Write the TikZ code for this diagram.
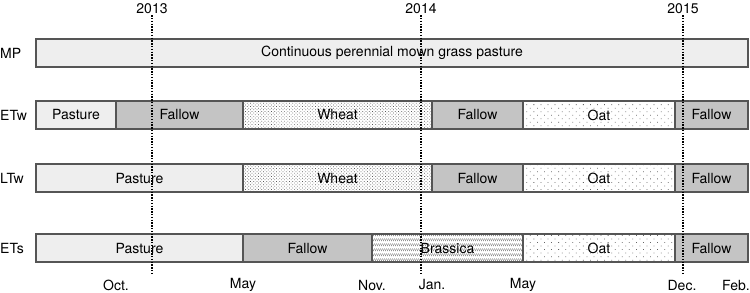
\documentclass[tikz,border=0pt]{standalone}
\usepackage{fontspec}
\setmainfont{TeX Gyre Heros}
\usetikzlibrary{patterns.meta,positioning}
\definecolor{pastgray}{RGB}{238,238,238}
\definecolor{fallgray}{RGB}{196,196,196}
\definecolor{edge}{RGB}{85,85,85}
\tikzdeclarepattern{name=slashrows,type=uncolored,
  bounding box={(0pt,0pt) and (2.2pt,5pt)},tile size={(2.2pt,5pt)},
  code={\draw[line width=0.5pt] (0pt,1pt) -- (2.2pt,4pt);}}

\begin{document}
\begin{tikzpicture}[x=1pt,y=-1pt,
  font=\fontsize{14}{16}\selectfont,
  seg/.style={draw=edge,line width=1.2pt,minimum height=28pt,inner sep=0pt},
  pasture/.style={fill=pastgray},
  fallow/.style={fill=fallgray},
  wheat/.style={preaction={fill=white},pattern={Dots[distance=2.3pt,angle=45,radius=0.5pt]},pattern color=gray!70!black},
  oat/.style={preaction={fill=white},pattern={Dots[distance=5pt,angle=45,radius=0.55pt]},pattern color=gray!80!black},
  brassica/.style={preaction={fill=white},pattern=slashrows,pattern color=gray!70!black},
  yearline/.style={line width=1.4pt,dash pattern=on 1.4pt off 1.4pt}]
\useasboundingbox (0,0) rectangle (750,292);
% rotation rows
\node[seg,pasture,minimum width=712] (mp) at (392,53) {Continuous perennial mown grass pasture};
\foreach \xa/\xb/\kind/\txt [count=\i] in {36/116/pasture/Pasture,116/243/fallow/Fallow,243/432/wheat/Wheat,
    432/523/fallow/Fallow,523/675/oat/Oat,675/748/fallow/Fallow}
  \node[seg,\kind,minimum width={\xb-\xa}] (etw\i) at ({(\xa+\xb)/2},115) {\txt};
\foreach \xa/\xb/\kind/\txt [count=\i] in {36/243/pasture/Pasture,243/432/wheat/Wheat,
    432/523/fallow/Fallow,523/675/oat/Oat,675/748/fallow/Fallow}
  \node[seg,\kind,minimum width={\xb-\xa}] (ltw\i) at ({(\xa+\xb)/2},178) {\txt};
\foreach \xa/\xb/\kind/\txt [count=\i] in {36/243/pasture/Pasture,243/372/fallow/Fallow,372/523/brassica/Brassica,
    523/675/oat/Oat,675/748/fallow/Fallow}
  \node[seg,\kind,minimum width={\xb-\xa}] (ets\i) at ({(\xa+\xb)/2},248) {\txt};
% row names
\node[anchor=west,inner sep=0pt] (nmp) at (0,53) {MP};
\node[anchor=west,inner sep=0pt] (netw) at (0,115) {ETw};
\node[anchor=west,inner sep=0pt] (nltw) at (0,178) {LTw};
\node[anchor=west,inner sep=0pt] (nets) at (0,248) {ETs};
% years
\foreach \yr/\x in {2013/152,2014/421,2015/683}{
  \node[inner sep=1pt] (y\yr) at (\x,9) {\yr};
  \coordinate (e\yr) at (\x,275);
  \draw[yearline] (y\yr.south) -- (e\yr);
}
% months
\foreach \m/\x [count=\i] in {Oct./116,May/243,Nov./372,Jan./432,May/523,Dec./682}
  \node (m\i) at (\x,285) {\m};
\node[anchor=east,inner sep=0pt] (m7) at (750,285) {Feb.};
\end{tikzpicture}
\end{document}
